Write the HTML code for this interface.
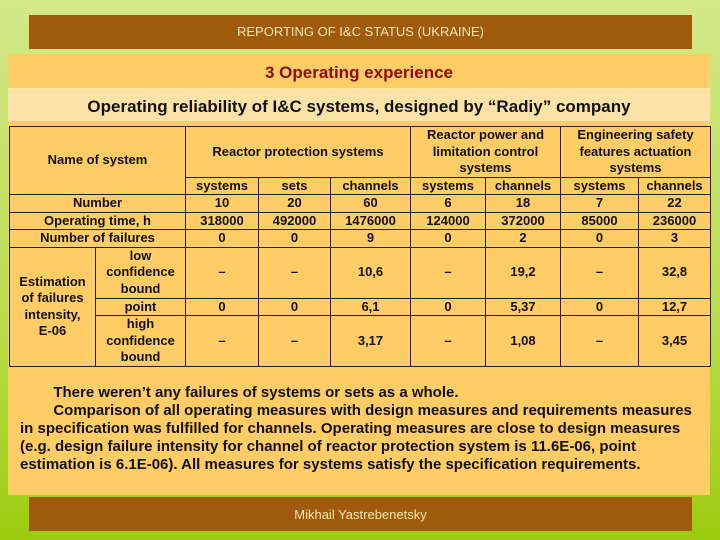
<!DOCTYPE html>
<html><head><meta charset="utf-8"><style>
body{margin:0;width:720px;height:540px;overflow:hidden;background:linear-gradient(180deg,#d2e98a 0%,#b9dc4c 60%,#9ccc10 100%);font-family:"Liberation Sans",sans-serif;position:relative}
.bar{position:absolute;left:29px;width:663px;background:#a05a0c;color:#f5e8b0;font-size:13px;text-align:center}
#panel{position:absolute;left:8px;top:54px;width:702px;height:441px;background:#ffcc66}
#t1{position:absolute;left:8px;top:55px;width:702px;height:33px;line-height:36px;text-align:center;color:#8b0d0d;font-weight:bold;font-size:17px;background:#ffcc66;border-bottom:2px solid #ffe9a0}
#t2{position:absolute;left:8px;top:90px;width:702px;height:31px;line-height:33px;text-align:center;color:#111;font-weight:bold;font-size:17px;background:#fbe3a8}
table{position:absolute;left:9px;top:126px;border-collapse:collapse;table-layout:fixed;font-size:13px;font-weight:bold;color:#111}
td{border:1px solid #222;text-align:center;padding:0;line-height:16.5px;vertical-align:middle}
#txt{position:absolute;left:20px;top:384px;width:720px;white-space:nowrap;font-size:15px;font-weight:bold;line-height:18px;color:#111}
</style></head><body>
<div class="bar" style="top:15px;height:34px;line-height:34px">REPORTING OF I&amp;C STATUS (UKRAINE)</div>
<div id="panel"></div>
<div id="t1">3 Operating experience</div>
<div id="t2">Operating reliability of I&amp;C systems, designed by “Radiy” company</div>
<table>
<colgroup><col style="width:86px"><col style="width:90px"><col style="width:73px"><col style="width:72px"><col style="width:80px"><col style="width:75px"><col style="width:75px"><col style="width:78px"><col style="width:72px"></colgroup>
<tr style="height:50px"><td colspan="2" rowspan="2">Name of system</td><td colspan="3">Reactor protection systems</td><td colspan="2">Reactor power and limitation control systems</td><td colspan="2">Engineering safety features actuation systems</td></tr>
<tr style="height:17px"><td>systems</td><td>sets</td><td>channels</td><td>systems</td><td>channels</td><td>systems</td><td>channels</td></tr>
<tr style="height:17px"><td colspan="2">Number</td><td>10</td><td>20</td><td>60</td><td>6</td><td>18</td><td>7</td><td>22</td></tr>
<tr style="height:17px"><td colspan="2">Operating time, h</td><td>318000</td><td>492000</td><td>1476000</td><td>124000</td><td>372000</td><td>85000</td><td>236000</td></tr>
<tr style="height:17px"><td colspan="2">Number of failures</td><td>0</td><td>0</td><td>9</td><td>0</td><td>2</td><td>0</td><td>3</td></tr>
<tr style="height:51px"><td rowspan="3">Estimation<br>of failures<br>intensity,<br>E‑06</td><td>low confidence bound</td><td>–</td><td>–</td><td>10,6</td><td>–</td><td>19,2</td><td>–</td><td>32,8</td></tr>
<tr style="height:17px"><td>point</td><td>0</td><td>0</td><td>6,1</td><td>0</td><td>5,37</td><td>0</td><td>12,7</td></tr>
<tr style="height:50px"><td>high confidence bound</td><td>–</td><td>–</td><td>3,17</td><td>–</td><td>1,08</td><td>–</td><td>3,45</td></tr>
</table>
<div id="txt">&nbsp;&nbsp;&nbsp;&nbsp;&nbsp;&nbsp;&nbsp;&nbsp;There weren’t any failures of systems or sets as a whole.<br>&nbsp;&nbsp;&nbsp;&nbsp;&nbsp;&nbsp;&nbsp;&nbsp;Comparison of all operating measures with design measures and requirements measures<br>in specification was fulfilled for channels. Operating measures are close to design measures<br>(e.g. design failure intensity for channel of reactor protection system is 11.6E-06, point<br>estimation is 6.1E-06). All measures for systems satisfy the specification requirements.</div>
<div class="bar" style="top:497px;height:34px;line-height:36px">Mikhail Yastrebenetsky</div>
</body></html>
